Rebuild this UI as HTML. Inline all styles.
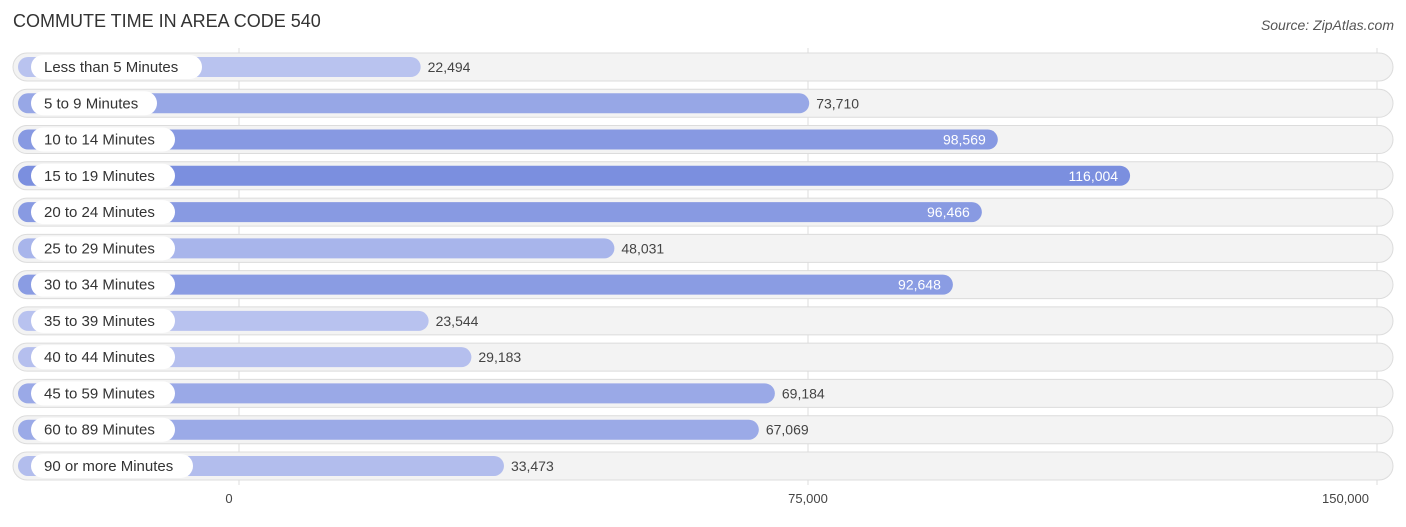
<!DOCTYPE html>
<html><head><meta charset="utf-8"><style>
body{margin:0;background:#fff;font-family:"Liberation Sans",sans-serif}
</style></head><body>
<svg id="c" width="1406" height="522" xmlns="http://www.w3.org/2000/svg">
<text x="13" y="27" font-size="18" fill="#333">COMMUTE TIME IN AREA CODE 540</text>
<text x="1394" y="30" font-size="14" font-style="italic" fill="#555" text-anchor="end">Source: ZipAtlas.com</text>
<g id="grid"></g><g id="rows"></g><g id="ticks"></g>
</svg>
<script>
const categories=["Less than 5 Minutes","5 to 9 Minutes","10 to 14 Minutes","15 to 19 Minutes","20 to 24 Minutes","25 to 29 Minutes","30 to 34 Minutes","35 to 39 Minutes","40 to 44 Minutes","45 to 59 Minutes","60 to 89 Minutes","90 or more Minutes"];
const values=[22494,73710,98569,116004,96466,48031,92648,23544,29183,69184,67069,33473];
const tickValues=[0,75000,150000];
const tickLabels=["0","75,000","150,000"];
const NS="http://www.w3.org/2000/svg";
const x0=239,k=569/75000;
const xs=v=>x0+v*k;
const ys=i=>67+i*36.27;
function mk(tag,attrs,parent){const e=document.createElementNS(NS,tag);for(const a in attrs)e.setAttribute(a,attrs[a]);parent.appendChild(e);return e;}
const grid=document.getElementById('grid'),rows=document.getElementById('rows'),ticks=document.getElementById('ticks');
const vmax=Math.max(...values),vmin=Math.min(...values);
function col(v){const t=(v-vmin)/(vmax-vmin);const a=[185,195,239],b=[123,143,223];return `rgb(${a.map((c,i)=>Math.round(c+(b[i]-c)*t)).join(',')})`;}
tickValues.forEach((v,i)=>{
const l=mk('line',{x1:xs(v),x2:xs(v),y1:48,y2:485,stroke:'#ddd','stroke-width':1},grid);


const t=mk('text',{x:xs(v)-(i==0?10:0),y:503,'font-size':13,fill:'#444','text-anchor':i==2?'end':'middle'},ticks);
if(i==2)t.setAttribute('x',xs(v)-8);
t.textContent=tickLabels[i];


});
categories.forEach((c,i)=>{
const y=ys(i);
const g=mk('g',{},rows);


const bg=mk('rect',{x:13,y:y-14,width:1380,height:28,rx:14,fill:'#f3f3f3',stroke:'#dcdcdc','stroke-width':1},g);


const v=values[i],end=xs(v)+11;
const b=mk('rect',{x:18,y:y-10,width:end-18,height:20,rx:10,fill:col(v)},g);


const tw=c.length*9;
const p=mk('rect',{x:31,y:y-12,width:tw,height:24,rx:12,fill:'#fff'},g);


const lt=mk('text',{x:44,y:y+5,'font-size':15,fill:'#333'},g);
lt.textContent=c;


const inside=v>85000;
const vt=mk('text',{x:inside?end-12:end+7,y:y+5,'font-size':14,fill:inside?'#fff':'#444','text-anchor':inside?'end':'start'},g);
vt.textContent=v.toLocaleString('en-US');


});
</script>
</body></html>
